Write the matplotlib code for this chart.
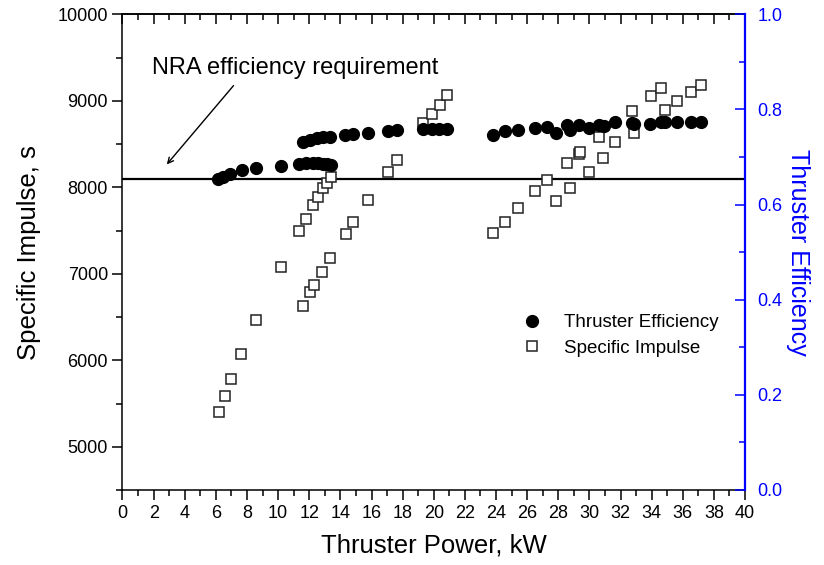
import matplotlib
matplotlib.use('Agg')
import matplotlib.pyplot as plt
from matplotlib.ticker import MultipleLocator, FormatStrFormatter

plt.rcParams['font.family'] = ['Liberation Sans', 'DejaVu Sans']

# thruster efficiency (right axis)
power_eff = [6.16, 6.48, 6.91, 7.66, 8.59, 10.17,
             11.35, 11.8, 12.27, 12.59, 12.91, 13.13, 13.39,
             11.63, 12.06, 12.49, 12.91, 13.34,
             14.31, 14.84, 15.75, 17.03, 17.63,
             19.34, 19.88, 20.31, 20.85,
             23.81, 24.56, 25.39, 26.53, 27.28, 27.88, 28.57, 28.73, 29.36, 29.96,
             30.6, 30.92, 31.63, 32.75, 32.86, 33.92, 34.63, 34.89, 35.64, 36.56, 37.18]
eff = [0.654, 0.659, 0.665, 0.672, 0.677, 0.682,
       0.686, 0.687, 0.687, 0.687, 0.686, 0.685, 0.683,
       0.732, 0.736, 0.740, 0.742, 0.743,
       0.747, 0.748, 0.750, 0.755, 0.756,
       0.759, 0.759, 0.759, 0.759,
       0.747, 0.754, 0.757, 0.762, 0.764, 0.750, 0.768, 0.756, 0.768, 0.761,
       0.768, 0.766, 0.774, 0.771, 0.770, 0.769, 0.773, 0.773, 0.774, 0.774, 0.774]

# specific impulse (left axis)
power_isp = [6.2, 6.59, 7.0, 7.64, 8.6, 10.21,
             11.35, 11.8, 12.27, 12.59, 12.91, 13.13, 13.39,
             11.59, 12.08, 12.33, 12.85, 13.34,
             14.33, 14.82, 15.78, 17.05, 17.63,
             19.3, 19.88, 20.37, 20.85,
             23.81, 24.56, 25.39, 26.53, 27.28, 27.88, 28.57, 28.73, 29.31, 29.37, 29.96,
             30.6, 30.88, 31.63, 32.75, 32.86, 33.97, 34.63, 34.89, 35.64, 36.56, 37.18]
isp = [5399, 5587, 5780, 6073, 6466, 7075,
       7495, 7635, 7790, 7892, 7988, 8053, 8122,
       6628, 6786, 6867, 7024, 7178,
       7458, 7598, 7855, 8173, 8316,
       8740, 8844, 8951, 9067,
       7468, 7602, 7764, 7957, 8084, 7842, 8285, 7988, 8385, 8412, 8180,
       8585, 8342, 8520, 8882, 8631, 9059, 9151, 8894, 9001, 9105, 9183]

nra_isp = 8100   # NRA efficiency requirement line (drawn on left axis)

fig = plt.figure(figsize=(8.24, 5.65), dpi=100)
ax = fig.add_axes([122.5/824, 1-490/565, (745-122.5)/824, (490-14.3)/565])
ax2 = ax.twinx()

blue = '#0000ff'

ax.plot(power_isp, isp, 's', ms=7.5, mfc='white', mec='#222222', mew=1.1,
        label='Specific Impulse', zorder=3)
ax.axhline(nra_isp, color='black', lw=1.6, zorder=2)
ax2.plot(power_eff, eff, 'o', ms=8.5, color='black', label='Thruster Efficiency', zorder=3)

ax.set_xlim(0, 40)
ax.set_ylim(4500, 10000)
ax2.set_ylim(0, 1.0)

ax.xaxis.set_major_locator(MultipleLocator(2))
ax.xaxis.set_minor_locator(MultipleLocator(1))
ax.yaxis.set_major_locator(MultipleLocator(1000))
ax.yaxis.set_minor_locator(MultipleLocator(500))
ax2.yaxis.set_major_locator(MultipleLocator(0.2))
ax2.yaxis.set_minor_locator(MultipleLocator(0.1))
ax2.yaxis.set_major_formatter(FormatStrFormatter('%.1f'))

ax.tick_params(axis='x', which='both', direction='out', top=False, labelsize=13, width=1.1, pad=4)
ax.tick_params(axis='x', which='major', length=7)
ax.tick_params(axis='x', which='minor', length=4)
ax.tick_params(axis='y', which='both', direction='out', right=False, labelsize=13, width=1.1)
ax.tick_params(axis='y', which='major', length=7)
ax.tick_params(axis='y', which='minor', length=4)

# top axis ticks pointing inward
sec = ax.secondary_xaxis('top')
sec.xaxis.set_major_locator(MultipleLocator(2))
sec.xaxis.set_minor_locator(MultipleLocator(1))
sec.tick_params(axis='x', which='both', direction='in', labeltop=False, width=1.1)
sec.tick_params(axis='x', which='major', length=7)
sec.tick_params(axis='x', which='minor', length=4)
sec.spines['top'].set_linewidth(1.1)

ax2.tick_params(axis='y', which='both', direction='in', colors=blue, labelsize=13, width=1.1, pad=9)
ax2.tick_params(axis='y', which='major', length=7)
ax2.tick_params(axis='y', which='minor', length=4)

for s in ['left', 'bottom', 'top']:
    ax.spines[s].set_linewidth(1.1)
ax.spines['right'].set_visible(False)
ax2.spines['right'].set_color(blue)
ax2.spines['right'].set_linewidth(1.6)
for s in ['left', 'bottom', 'top']:
    ax2.spines[s].set_visible(False)

ax.set_xlabel('Thruster Power, kW', fontsize=18.5, labelpad=8)
ax.set_ylabel('Specific Impulse, s', fontsize=18.5, labelpad=12)
ax2.set_ylabel('Thruster Efficiency', fontsize=18, color=blue, rotation=270, labelpad=20)

ax.text(1.9, 9310, 'NRA efficiency requirement', fontsize=17, ha='left', va='baseline')
ax.annotate('', xy=(2.73, 8240), xytext=(7.25, 9200),
            arrowprops=dict(arrowstyle='->', color='black', lw=1.0))

h1, l1 = ax2.get_legend_handles_labels()
h2, l2 = ax.get_legend_handles_labels()
ax2.legend(h1 + h2, l1 + l2, loc='center left', bbox_to_anchor=(0.60, 0.325),
           frameon=False, fontsize=13.5, handletextpad=0.7, labelspacing=0.45)

fig.savefig('out.png', dpi=100)
